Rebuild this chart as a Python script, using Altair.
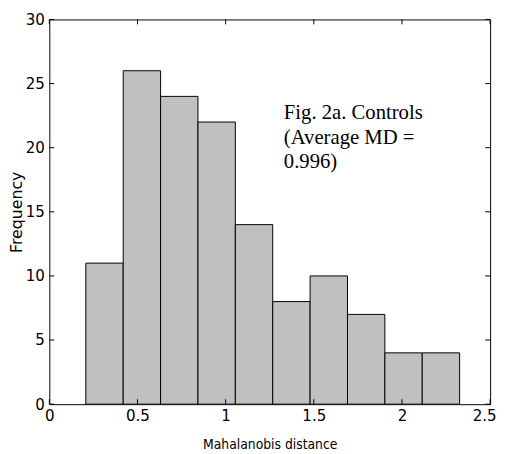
import altair as alt
import pandas as pd

# Histogram bins (edges) and counts
bin_left = [0.207, 0.419, 0.631, 0.843, 1.055, 1.267, 1.479, 1.691, 1.903, 2.115]
bin_right = [0.419, 0.631, 0.843, 1.055, 1.267, 1.479, 1.691, 1.903, 2.115, 2.327]
counts = [11, 26, 24, 22, 14, 8, 10, 7, 4, 4]

x_ticks = [0, 0.5, 1, 1.5, 2, 2.5]
y_ticks = [0, 5, 10, 15, 20, 25, 30]

note_text = ["Fig. 2a. Controls", "(Average MD =", "0.996)"]
note_x = [1.33]
note_y = [22.2]

W, H = 448, 391
LABEL_FONT = "Liberation Sans Narrow, DejaVu Sans Condensed, sans-serif"

bars_df = pd.DataFrame({"x0": bin_left, "x1": bin_right, "n": counts, "z": [0] * len(counts)})
xt_df = pd.DataFrame({"t": x_ticks})
yt_df = pd.DataFrame({"t": y_ticks})
note_df = pd.DataFrame({"x": note_x, "y": note_y, "label": ["\n".join(note_text)]})

xscale = alt.Scale(domain=[0, 2.5], nice=False, zero=False)
yscale = alt.Scale(domain=[0, 30], nice=False)

xaxis = alt.Axis(
    values=x_ticks, format="~g", ticks=False, domain=False, grid=False, labelFlush=False,
    labelOverlap=False, labelPadding=4, labelFont=LABEL_FONT, labelFontSize=17,
    labelOffset={"condition": {"test": "datum.value >= 2.5", "value": -6}, "value": 0},
    labelColor="black", title="Mahalanobis distance", titleFont="DejaVu Sans Condensed",
    titleFontSize=14, titleFontWeight="normal", titleColor="black",
    titleY=45, titleBaseline="alphabetic",
)
yaxis = alt.Axis(
    values=y_ticks, format="~g", ticks=False, domain=False, grid=False, labelFlush=False,
    labelOverlap=False, labelPadding=5, labelFont=LABEL_FONT, labelFontSize=17,
    labelColor="black", labelBaseline="middle", title="Frequency", titleFont="DejaVu Sans",
    titleFontSize=16, titleFontWeight="normal", titleColor="black",
    titleX=-33, titleBaseline="middle",
)

bars = alt.Chart(bars_df).mark_rect(fill="#c0c0c0", stroke="black", strokeWidth=1).encode(
    x=alt.X("x0:Q", scale=xscale, axis=xaxis),
    x2="x1:Q",
    y=alt.Y("n:Q", scale=yscale, axis=yaxis),
    y2="z:Q",
)

tick_mark = dict(color="black", strokeWidth=1)
bottom_ticks = alt.Chart(xt_df).mark_rule(**tick_mark).encode(
    x=alt.X("t:Q", scale=xscale), y=alt.value(H), y2=alt.value(H - 5))
top_ticks = alt.Chart(xt_df).mark_rule(**tick_mark).encode(
    x=alt.X("t:Q", scale=xscale), y=alt.value(0), y2=alt.value(5))
left_ticks = alt.Chart(yt_df).mark_rule(**tick_mark).encode(
    y=alt.Y("t:Q", scale=yscale), x=alt.value(0), x2=alt.value(5))
right_ticks = alt.Chart(yt_df).mark_rule(**tick_mark).encode(
    y=alt.Y("t:Q", scale=yscale), x=alt.value(W), x2=alt.value(W - 5))

note = alt.Chart(note_df).mark_text(
    align="left", baseline="alphabetic", font="Liberation Serif", fontSize=21,
    lineBreak="\n", lineHeight=24.6, color="black",
).encode(
    x=alt.X("x:Q", scale=xscale), y=alt.Y("y:Q", scale=yscale), text="label:N"
)

chart = alt.layer(bars, bottom_ticks, top_ticks, left_ticks, right_ticks, note).properties(
    width=W, height=H,
    autosize=alt.AutoSizeParams(type="none"),
    padding={"left": 42, "top": 8, "right": 8, "bottom": 46},
    background="white",
).configure_view(stroke="black", strokeWidth=1)

chart.save("out.html", embed_options={"renderer": "svg", "actions": False})
